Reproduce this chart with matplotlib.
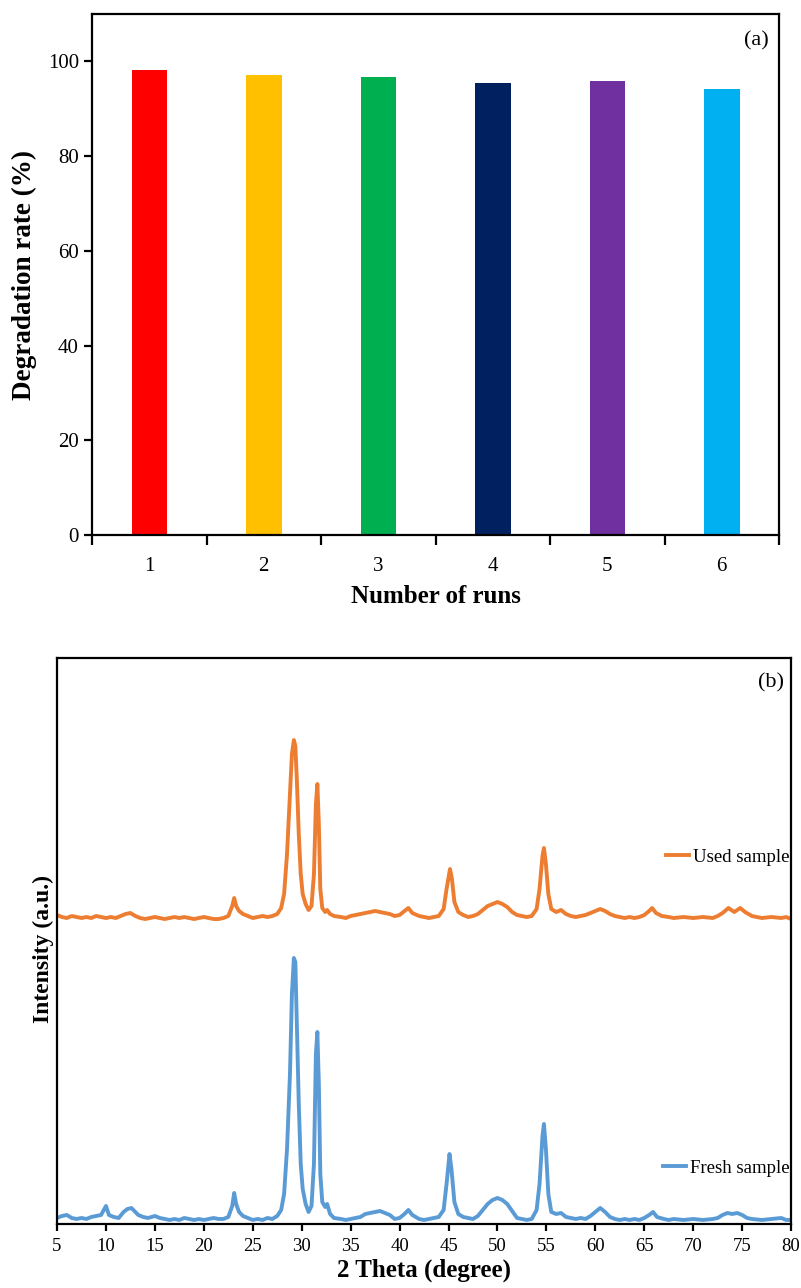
#!/usr/bin/env python3

import matplotlib
matplotlib.use("Agg")
import matplotlib.pyplot as plt

# Panel (a): degradation rate over repeated runs.

runs = [1, 2, 3, 4, 5, 6]
rate = [98.1, 97.1, 96.7, 95.5, 95.8, 94.1]
bar_colors = ["#FF0000", "#FFC000", "#00B050", "#002060", "#7030A0", "#00B0F0"]

# Panel (b): XRD patterns (2 theta, intensity a.u.).

fresh_2theta = [5.0, 5.5, 6.0, 6.5, 7.0, 7.5, 8.0, 8.5, 9.0, 9.5, 10.0, 10.3, 10.8, 11.3, 11.8,
                12.2, 12.6, 13.0, 13.3, 13.8, 14.3, 15.0, 15.5, 16.0, 16.5, 17.0, 17.5, 18.0,
                18.5, 19.0, 19.5, 20.0, 20.5, 21.0, 21.5, 22.0, 22.5, 22.9, 23.1, 23.3, 23.6,
                24.0, 24.5, 25.0, 25.5, 26.0, 26.5, 27.0, 27.5, 27.9, 28.2, 28.5, 28.8, 29.0,
                29.2, 29.35, 29.5, 29.7, 29.9, 30.1, 30.4, 30.7, 31.0, 31.25, 31.45, 31.6,
                31.75, 31.9, 32.1, 32.4, 32.6, 32.9, 33.3, 34.0, 34.5, 35.0, 35.5, 36.0, 36.5,
                37.0, 37.5, 38.0, 38.5, 39.0, 39.5, 40.0, 40.5, 40.9, 41.3, 42.0, 42.5, 43.0,
                43.5, 44.0, 44.5, 44.8, 45.1, 45.3, 45.6, 46.0, 46.5, 47.0, 47.5, 48.0, 48.5,
                49.0, 49.5, 50.0, 50.5, 51.0, 51.5, 52.0, 52.5, 53.0, 53.5, 54.0, 54.3, 54.6,
                54.75, 54.95, 55.2, 55.5, 56.0, 56.5, 57.0, 57.5, 58.0, 58.5, 59.0, 59.5, 60.0,
                60.5, 61.0, 61.5, 62.0, 62.5, 63.0, 63.5, 64.0, 64.5, 65.0, 65.5, 65.9, 66.3,
                67.0, 67.5, 68.0, 69.0, 70.0, 71.0, 72.0, 72.5, 73.0, 73.5, 74.0, 74.5, 75.0,
                75.5, 76.0, 77.0, 78.0, 79.0, 79.5, 80.0]
fresh_int = [6, 8, 9, 6, 5, 6, 5, 7, 8, 9, 18, 9, 7, 6, 12,
             15, 16, 12, 9, 7, 6, 8, 6, 5, 4, 5, 4, 6,
             5, 4, 5, 4, 5, 6, 5, 5, 7, 18, 31, 20, 12,
             8, 6, 4, 5, 4, 6, 5, 8, 14, 30, 75, 150, 230,
             266, 262, 200, 120, 60, 35, 20, 12, 18, 60, 170, 192,
             140, 50, 22, 17, 20, 10, 6, 5, 4, 5, 6, 7, 10,
             11, 12, 13, 11, 9, 5, 6, 10, 14, 9, 5, 4, 5,
             6, 7, 14, 40, 70, 55, 22, 10, 7, 6, 5, 8, 14,
             20, 24, 26, 24, 20, 13, 6, 5, 4, 5, 14, 40, 88,
             100, 75, 30, 12, 10, 11, 7, 6, 5, 6, 5, 8, 12,
             16, 12, 7, 5, 4, 5, 4, 5, 4, 6, 9, 12, 7,
             5, 4, 5, 4, 5, 4, 5, 6, 9, 11, 10, 11, 9,
             6, 5, 4, 5, 6, 4, 4]

used_2theta = [5.0, 5.5, 6.0, 6.5, 7.0, 7.5, 8.0, 8.5, 9.0, 9.5, 10.0, 10.5, 11.0, 11.5, 12.0,
               12.5, 13.0, 13.5, 14.0, 14.5, 15.0, 15.5, 16.0, 16.5, 17.0, 17.5, 18.0, 18.5,
               19.0, 19.5, 20.0, 20.5, 21.0, 21.5, 22.0, 22.5, 22.9, 23.1, 23.3, 23.6, 24.0,
               24.5, 25.0, 25.5, 26.0, 26.5, 27.0, 27.5, 27.9, 28.2, 28.5, 28.8, 29.0, 29.2,
               29.35, 29.5, 29.7, 29.9, 30.1, 30.4, 30.7, 31.0, 31.25, 31.45, 31.6, 31.75,
               31.9, 32.1, 32.4, 32.6, 32.9, 33.3, 34.0, 34.5, 35.0, 35.5, 36.0, 36.5, 37.0,
               37.5, 38.0, 38.5, 39.0, 39.5, 40.0, 40.5, 40.9, 41.3, 42.0, 42.5, 43.0, 43.5,
               44.0, 44.5, 44.8, 45.15, 45.35, 45.6, 46.0, 46.5, 47.0, 47.5, 48.0, 48.5, 49.0,
               49.5, 50.0, 50.5, 51.0, 51.5, 52.0, 52.5, 53.0, 53.5, 54.0, 54.3, 54.6, 54.75,
               54.95, 55.2, 55.5, 56.0, 56.5, 57.0, 57.5, 58.0, 58.5, 59.0, 59.5, 60.0, 60.5,
               61.0, 61.5, 62.0, 62.5, 63.0, 63.5, 64.0, 64.5, 65.0, 65.5, 65.8, 66.2, 66.8,
               67.5, 68.0, 69.0, 70.0, 71.0, 72.0, 72.5, 73.0, 73.6, 74.2, 74.8, 75.3, 76.0,
               77.0, 78.0, 79.0, 79.5, 80.0]
used_int = [309, 307, 306, 308, 307, 306, 307, 306, 308, 307, 306, 307, 306, 308, 310,
            311, 308, 306, 305, 306, 307, 306, 305, 306, 307, 306, 307, 306,
            305, 306, 307, 306, 305, 305, 306, 308, 318, 326, 318, 313, 310,
            308, 306, 307, 308, 307, 308, 310, 316, 330, 370, 430, 470, 484,
            478, 445, 390, 350, 330, 320, 314, 318, 350, 420, 440, 400,
            335, 316, 312, 314, 310, 308, 307, 306, 308, 309, 310, 311, 312,
            313, 312, 311, 310, 308, 309, 313, 316, 311, 308, 307, 306, 307,
            308, 315, 335, 355, 345, 322, 312, 309, 307, 308, 310, 314, 318,
            320, 322, 320, 317, 312, 309, 308, 307, 308, 315, 335, 368, 376,
            360, 330, 315, 312, 314, 310, 308, 307, 308, 309, 311, 313, 315,
            313, 310, 308, 307, 306, 307, 306, 307, 309, 313, 316, 311, 308,
            307, 306, 307, 306, 307, 306, 308, 311, 316, 312, 316, 312, 308,
            306, 307, 306, 307, 305]

# Fonts similar to Times.

matplotlib.rcParams["font.family"] = "Liberation Serif"
matplotlib.rcParams["axes.linewidth"] = 1.6

fig = plt.figure(figsize=(8.01, 12.88), dpi=100)

# (a) bar chart.

ax1 = fig.add_axes([0.1149, 0.5846, 0.8577, 0.4045])
ax1.bar(runs, rate, width=0.31, color=bar_colors)
ax1.set_xlim(0.5, 6.5)
ax1.set_ylim(0, 110)
ax1.set_yticks([0, 20, 40, 60, 80, 100])
ax1.set_xticks(runs)
ax1.set_xticks([0.5, 1.5, 2.5, 3.5, 4.5, 5.5, 6.5], minor=True)
ax1.tick_params(axis="x", which="major", length=0, labelsize=15, pad=16)
ax1.tick_params(axis="x", which="minor", length=7, width=1.6, direction="out")
ax1.tick_params(axis="y", length=6, width=1.6, direction="out", labelsize=15, right=False)
ax1.set_xlabel("Number of runs", fontsize=18, fontweight="bold", labelpad=6)
ax1.set_ylabel("Degradation rate (%)", fontsize=19.5, fontweight="bold", labelpad=8)
ax1.text(0.985, 0.948, "(a)", transform=ax1.transAxes, ha="right", va="center", fontsize=16)

# (b) XRD patterns.

ax2 = fig.add_axes([0.0712, 0.0497, 0.9164, 0.4394])
used_line, = ax2.plot(used_2theta, used_int, color="#ED7D31", lw=2.8)
fresh_line, = ax2.plot(fresh_2theta, fresh_int, color="#5B9BD5", lw=2.8)
ax2.set_xlim(5, 80)
ax2.set_ylim(0, 566)
ax2.set_xticks(range(5, 81, 5))
ax2.set_yticks([])
ax2.tick_params(axis="x", length=5, width=1.6, direction="out", labelsize=13.5, pad=5)
ax2.set_xlabel("2 Theta (degree)", fontsize=18, fontweight="bold", labelpad=3)
ax2.set_ylabel("Intensity (a.u.)", fontsize=17, fontweight="bold")
ax2.yaxis.set_label_coords(-0.004, 0.486)
ax2.text(0.99, 0.956, "(b)", transform=ax2.transAxes, ha="right", va="center", fontsize=16)

leg1 = ax2.legend([used_line], ["Used sample"], loc="center right", bbox_to_anchor=(1.0, 0.648),
                  frameon=False, fontsize=13.5, handlelength=1.2, handletextpad=0.2,
                  borderaxespad=0, borderpad=0.1)
ax2.add_artist(leg1)
ax2.legend([fresh_line], ["Fresh sample"], loc="center right", bbox_to_anchor=(1.0, 0.099),
           frameon=False, fontsize=13.5, handlelength=1.2, handletextpad=0.2,
           borderaxespad=0, borderpad=0.1)

fig.savefig("out.png", dpi=100)
